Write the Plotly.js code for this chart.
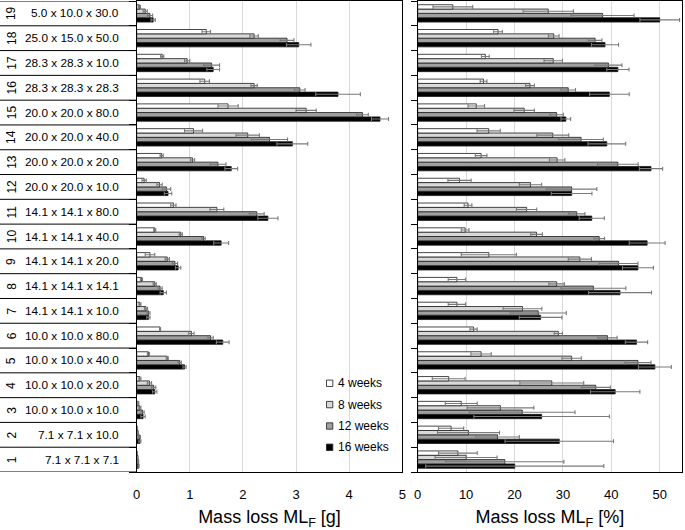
<!DOCTYPE html>
<html><head><meta charset="utf-8">
<script src="https://cdn.plot.ly/plotly-3.0.1.min.js"></script>
<style>html,body{margin:0;padding:0;background:#fff}</style>
</head><body><div id="chart" style="width:685px;height:530px"></div>
<script>
// Row numbers (bottom to top) and specimen dimensions
const rowNumbers = [1,2,3,4,5,6,7,8,9,10,11,12,13,14,15,16,17,18,19];
const sizeLabels = ['7.1 x 7.1 x 7.1','7.1 x 7.1 x 10.0','10.0 x 10.0 x 10.0','10.0 x 10.0 x 20.0','10.0 x 10.0 x 40.0','10.0 x 10.0 x 80.0','14.1 x 14.1 x 10.0','14.1 x 14.1 x 14.1','14.1 x 14.1 x 20.0','14.1 x 14.1 x 40.0','14.1 x 14.1 x 80.0','20.0 x 20.0 x 10.0','20.0 x 20.0 x 20.0','20.0 x 20.0 x 40.0','20.0 x 20.0 x 80.0','28.3 x 28.3 x 28.3','28.3 x 28.3 x 10.0','25.0 x 15.0 x 50.0','5.0 x 10.0 x 30.0'];
const seriesNames = ['4 weeks','8 weeks','12 weeks','16 weeks'];

// Mass loss [g]
const g4   = [0.008,0.012,0.03,0.06,0.22,0.44,0.06,0.09,0.25,0.34,0.69,0.14,0.47,1.07,1.72,1.28,0.48,1.31,0.05];
const g4e  = [0.003,0.004,0.01,0.02,0.02,0.01,0.02,0.02,0.09,0.02,0.05,0.04,0.03,0.17,0.19,0.09,0.03,0.08,0.02];
const g8   = [0.02,0.025,0.06,0.24,0.575,1.03,0.175,0.34,0.575,0.83,1.51,0.43,1.05,2.09,3.19,2.21,0.95,2.21,0.16];
const g8e  = [0.005,0.008,0.02,0.04,0.02,0.05,0.03,0.03,0.04,0.03,0.13,0.05,0.04,0.22,0.19,0.06,0.05,0.08,0.04];
const g12  = [0.03,0.05,0.11,0.32,0.81,1.39,0.22,0.44,0.72,1.26,2.26,0.56,1.53,2.5,4.25,3.07,1.41,2.83,0.25];
const g12e = [0.008,0.02,0.03,0.04,0.03,0.05,0.03,0.04,0.05,0.03,0.14,0.08,0.15,0.34,0.11,0.1,0.15,0.13,0.05];
const g16  = [0.035,0.06,0.12,0.34,0.9,1.62,0.22,0.5,0.78,1.59,2.47,0.59,1.78,2.93,4.58,3.79,1.44,3.05,0.31];
const g16e = [0.01,0.02,0.04,0.04,0.03,0.12,0.03,0.06,0.05,0.14,0.19,0.07,0.12,0.29,0.16,0.42,0.12,0.23,0.04];

// Mass loss [%]
const p4   = [8.3,6.9,9.0,6.4,13.1,11.55,8.1,8.1,14.7,9.8,10.4,8.64,13.1,14.66,12.1,13.6,13.97,16.6,7.26];
const p4e  = [4.0,2.6,3.3,3.4,2.1,0.75,1.8,1.8,5.7,0.8,0.8,2.4,1.2,2.4,1.7,0.7,0.8,0.9,4.1];
const p8   = [10.0,10.5,17.1,27.7,31.8,29.05,21.65,28.7,33.5,24.55,22.5,23.3,28.8,27.9,22.0,23.2,28.0,28.1,26.97];
const p8e  = [6.4,6.4,6.9,6.6,2.0,0.85,4.0,1.6,2.4,1.2,2.1,2.3,1.6,3.3,2.1,0.9,1.9,1.1,5.2];
const p12  = [18.0,16.5,21.6,36.8,45.5,39.2,24.9,36.3,41.5,37.5,32.85,31.8,41.35,33.75,28.7,31.1,39.4,36.65,38.2];
const p12e = [12.2,4.5,10.9,3.0,2.7,2.0,5.8,6.7,4.0,1.1,1.7,5.2,4.2,4.6,1.4,1.5,2.8,1.4,6.5];
const p16  = [20.05,29.25,25.6,40.8,49.0,45.2,25.4,41.8,45.5,47.4,35.96,31.8,48.2,39.07,30.6,39.6,41.35,38.7,50.0];
const p16e = [18.4,11.2,14.0,5.1,3.4,2.3,4.4,6.5,3.2,3.7,2.6,4.2,2.4,3.9,1.0,4.1,2.3,2.8,4.1];

const gTickVals = [0,1,2,3,4,5];
const pTickVals = [0,10,20,30,40,50];

const colors = ['#ffffff','#d9d9d9','#a0a0a0','#000000'];
const W = 685, H = 530, MT = 1, MB = 58;
const PH = H - MT - MB;
const px = x => x / W;
const py = y => (H - MB - y) / PH;

const gVals = [g4,g8,g12,g16], gErrs = [g4e,g8e,g12e,g16e];
const pVals = [p4,p8,p12,p16], pErrs = [p4e,p8e,p12e,p16e];

function bar(vals, errs, k, xa, ya) {
  return {
    type:'bar', orientation:'h', x: vals, y: rowNumbers, name: seriesNames[k],
    xaxis: xa, yaxis: ya, showlegend:false,
    marker:{color: colors[k], line:{color:'#1a1a1a', width:0.8}},
    error_x:{type:'data', array: errs, visible:true, color:'#7a7a7a', thickness:1.1, width:2},
    hoverinfo:'x'
  };
}
const traces = [];
for (let k = 3; k >= 0; k--) traces.push(bar(gVals[k], gErrs[k], k, 'x', 'y'));
for (let k = 3; k >= 0; k--) traces.push(bar(pVals[k], pErrs[k], k, 'x2', 'y2'));

const bounds = [];
for (let i = 0; i <= rowNumbers.length; i++) bounds.push(i + 0.5);

const shapes = bounds.map(b => ({type:'line', xref:'paper', yref:'y', x0:0, x1:px(136.7), y0:b, y1:b, line:{color:'#000', width:1}}));
const annotations = [];
rowNumbers.forEach((n, i) => {
  annotations.push({xref:'paper', yref:'y', x:px(11.7), y:n, text:String(n), showarrow:false, textangle:-90, xanchor:'center', yanchor:'middle', font:{size:12, color:'#000'}});
  annotations.push({xref:'paper', yref:'y', x:px(121), y:n, text:sizeLabels[i], showarrow:false, xanchor:'right', yanchor:'middle', font:{size:11.8, color:'#000'}});
});
const legendY = [383.3, 404.6, 426, 447.3];
seriesNames.forEach((s, k) => {
  shapes.push({type:'rect', xref:'paper', yref:'paper', x0:px(326.5), x1:px(332.8), y0:py(legendY[k]+3.2), y1:py(legendY[k]-3.2), fillcolor:colors[k], line:{color:'#1a1a1a', width:0.8}});
  annotations.push({xref:'paper', yref:'paper', x:px(335.5), y:py(legendY[k]), text:s, showarrow:false, xanchor:'left', yanchor:'middle', font:{size:12, color:'#000'}});
});

const axisCommon = {showline:true, mirror:true, linecolor:'#000', linewidth:1, zeroline:false, ticks:'', showgrid:true, gridcolor:'#d9d9d9', gridwidth:1, tickfont:{size:13, color:'#000'}, ticklabelstandoff:10, fixedrange:true};
const yCommon = {range:[0.5,19.5], tickmode:'array', tickvals:bounds, ticks:'outside', ticklen:7, tickcolor:'#000', showticklabels:false, showgrid:false, showline:true, mirror:true, linecolor:'#000', linewidth:1, zeroline:false, fixedrange:true};

const layout = {
  width:W, height:H, margin:{l:0, r:0, t:MT, b:MB},
  paper_bgcolor:'#fff', plot_bgcolor:'#fff',
  font:{family:'"Liberation Sans", Arial, sans-serif', color:'#000'},
  barmode:'group', bargap:0.3, bargroupgap:0, showlegend:false,
  xaxis: Object.assign({}, axisCommon, {domain:[px(136.7), px(402.3)], range:[0,5], tickmode:'array', tickvals:gTickVals, anchor:'y',
    title:{text:'Mass loss ML<sub>F</sub> [g]', font:{size:18, color:'#000'}, standoff:12}}),
  yaxis: Object.assign({}, yCommon, {anchor:'x'}),
  xaxis2: Object.assign({}, axisCommon, {domain:[px(417.7), px(682)], range:[0,54.6], tickmode:'array', tickvals:pTickVals, anchor:'y2',
    title:{text:'Mass loss ML<sub>F</sub> [%]', font:{size:18, color:'#000'}, standoff:12}}),
  yaxis2: Object.assign({}, yCommon, {anchor:'x2', ticklen:6}),
  shapes: shapes, annotations: annotations
};
Plotly.newPlot('chart', traces, layout, {staticPlot:true, displayModeBar:false});
</script>
</body></html>
